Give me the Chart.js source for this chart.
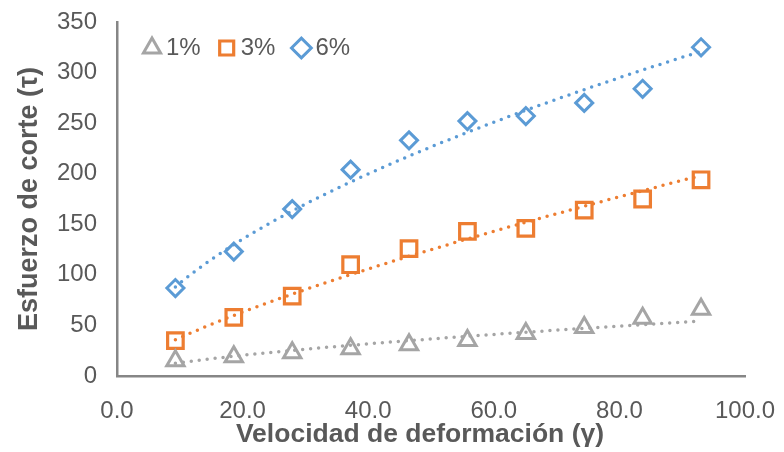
<!DOCTYPE html>
<html>
<head>
<meta charset="utf-8">
<script src="https://cdn.jsdelivr.net/npm/chart.js@4/dist/chart.umd.min.js"></script>
<style>
  html, body { margin: 0; padding: 0; background: #ffffff; }
  #wrap { width: 784px; height: 452px; }
</style>
</head>
<body>
<div id="wrap"><canvas id="chart" width="784" height="452"></canvas></div>
<script>
// Shear rate (x) for every series
const shearRate = [9.3, 18.6, 27.9, 37.2, 46.5, 55.8, 65.1, 74.4, 83.7, 93.0];

// Shear stress for each concentration
const stress1 = [15, 19, 23, 27, 31, 35, 42, 48, 57, 66];
const stress3 = [35, 58, 79, 110, 126, 143, 146, 164, 175, 194];
const stress6 = [87, 123, 165, 204, 233, 252, 257, 270, 284, 325];

const seriesLabels = ['1%', '3%', '6%'];
const xTicks = [0, 20, 40, 60, 80, 100];
const yTicks = [0, 50, 100, 150, 200, 250, 300, 350];

const GRAY = '#A5A5A5', ORANGE = '#ED7D31', BLUE = '#5B9BD5';
const TEXT = '#595959', AXIS = '#868686';
const FONT = '"Liberation Sans", Arial, sans-serif';

// Least-squares power-law fit  y = a * x^b  (log-log regression)
function powerFit(xs, ys) {
  const n = xs.length;
  let sx = 0, sy = 0, sxx = 0, sxy = 0;
  for (let i = 0; i < n; i++) {
    const lx = Math.log(xs[i]), ly = Math.log(ys[i]);
    sx += lx; sy += ly; sxx += lx * lx; sxy += lx * ly;
  }
  const b = (n * sxy - sx * sy) / (n * sxx - sx * sx);
  const a = Math.exp((sy - b * sx) / n);
  return x => a * Math.pow(x, b);
}

function trendPoints(xs, ys) {
  const f = powerFit(xs, ys);
  const x0 = xs[0], x1 = xs[xs.length - 1];
  const pts = [];
  const steps = 60;
  for (let i = 0; i <= steps; i++) {
    const x = x0 + (x1 - x0) * i / steps;
    pts.push({ x, y: f(x) });
  }
  return pts;
}

const toPoints = ys => shearRate.map((x, i) => ({ x, y: ys[i] }));

function markerSet(label, ys, color, style, radius, width) {
  return {
    label, data: toPoints(ys), showLine: false,
    pointStyle: style, pointRadius: radius, pointHoverRadius: radius,
    pointBorderWidth: width, borderWidth: width,
    pointBorderColor: color, borderColor: color,
    pointBackgroundColor: 'rgba(0,0,0,0)', backgroundColor: 'rgba(0,0,0,0)',
    order: 2
  };
}
function trendSet(ys, color) {
  return {
    label: 'trend', data: trendPoints(shearRate, ys), showLine: true,
    pointRadius: 0, pointHoverRadius: 0,
    borderColor: color, borderWidth: 3.5,
    borderDash: [0, 8], borderCapStyle: 'round',
    tension: 0, order: 1
  };
}

// Keep the legend row inside the plot area, laid out horizontally
const LEGEND_LEFT = 126, LEGEND_TOP = 12;
const legendInPlot = {
  id: 'legendInPlot',
  beforeUpdate(chart) {
    if (chart.legend) chart.legend.isHorizontal = () => true;
  },
  afterLayout(chart) {
    const lg = chart.legend;
    if (lg) {
      lg.left = LEGEND_LEFT;
      lg.right = LEGEND_LEFT + lg.width;
      lg.top = LEGEND_TOP;
      lg.bottom = LEGEND_TOP + lg.height;
    }
  }
};

new Chart(document.getElementById('chart'), {
  type: 'scatter',
  data: {
    datasets: [
      markerSet(seriesLabels[0], stress1, GRAY, 'triangle', 10, 3),
      markerSet(seriesLabels[1], stress3, ORANGE, 'rect', 11, 3.2),
      markerSet(seriesLabels[2], stress6, BLUE, 'rectRot', 8.5, 3),
      trendSet(stress1, GRAY),
      trendSet(stress3, ORANGE),
      trendSet(stress6, BLUE)
    ]
  },
  options: {
    responsive: false,
    devicePixelRatio: 1,
    animation: false,
    layout: { padding: { left: 0, top: 22, right: 39, bottom: 0 } },
    plugins: {
      tooltip: { enabled: false },
      legend: {
        position: 'chartArea',
        align: 'start',
        labels: {
          usePointStyle: true,
          boxWidth: 4,
          boxHeight: 14,
          padding: 24,
          color: TEXT,
          font: { family: FONT, size: 24 },
          filter: item => item.text !== 'trend'
        }
      }
    },
    scales: {
      x: {
        type: 'linear',
        min: 0, max: 100,
        afterFit: s => { s.height = 76; s.paddingLeft = 0; s.paddingRight = 0; },
        afterBuildTicks: s => { s.ticks = xTicks.map(v => ({ value: v })); },
        grid: { display: false, drawTicks: false },
        border: { display: true, color: AXIS, width: 2.5 },
        ticks: {
          padding: 21,
          color: TEXT,
          font: { family: FONT, size: 24 },
          callback: v => Number(v).toFixed(1)
        },
        title: {
          display: true,
          text: 'Velocidad de deformación (γ)   ',
          color: TEXT,
          font: { family: FONT, size: 26.5, weight: 'bold' },
          padding: { top: 0, bottom: 1 }
        }
      },
      y: {
        type: 'linear',
        min: 0, max: 350,
        afterFit: s => { s.width = 117; s.paddingTop = 0; s.paddingBottom = 0; },
        afterBuildTicks: s => { s.ticks = yTicks.map(v => ({ value: v })); },
        grid: { display: false, drawTicks: false },
        border: { display: true, color: AXIS, width: 2.5 },
        ticks: {
          padding: 20,
          color: TEXT,
          font: { family: FONT, size: 24 }
        },
        title: {
          display: true,
          text: 'Esfuerzo de corte (τ)',
          color: TEXT,
          font: { family: FONT, size: 27, weight: 'bold' },
          padding: { top: 13, bottom: 0 }
        }
      }
    }
  },
  plugins: [legendInPlot]
});
</script>
</body>
</html>
